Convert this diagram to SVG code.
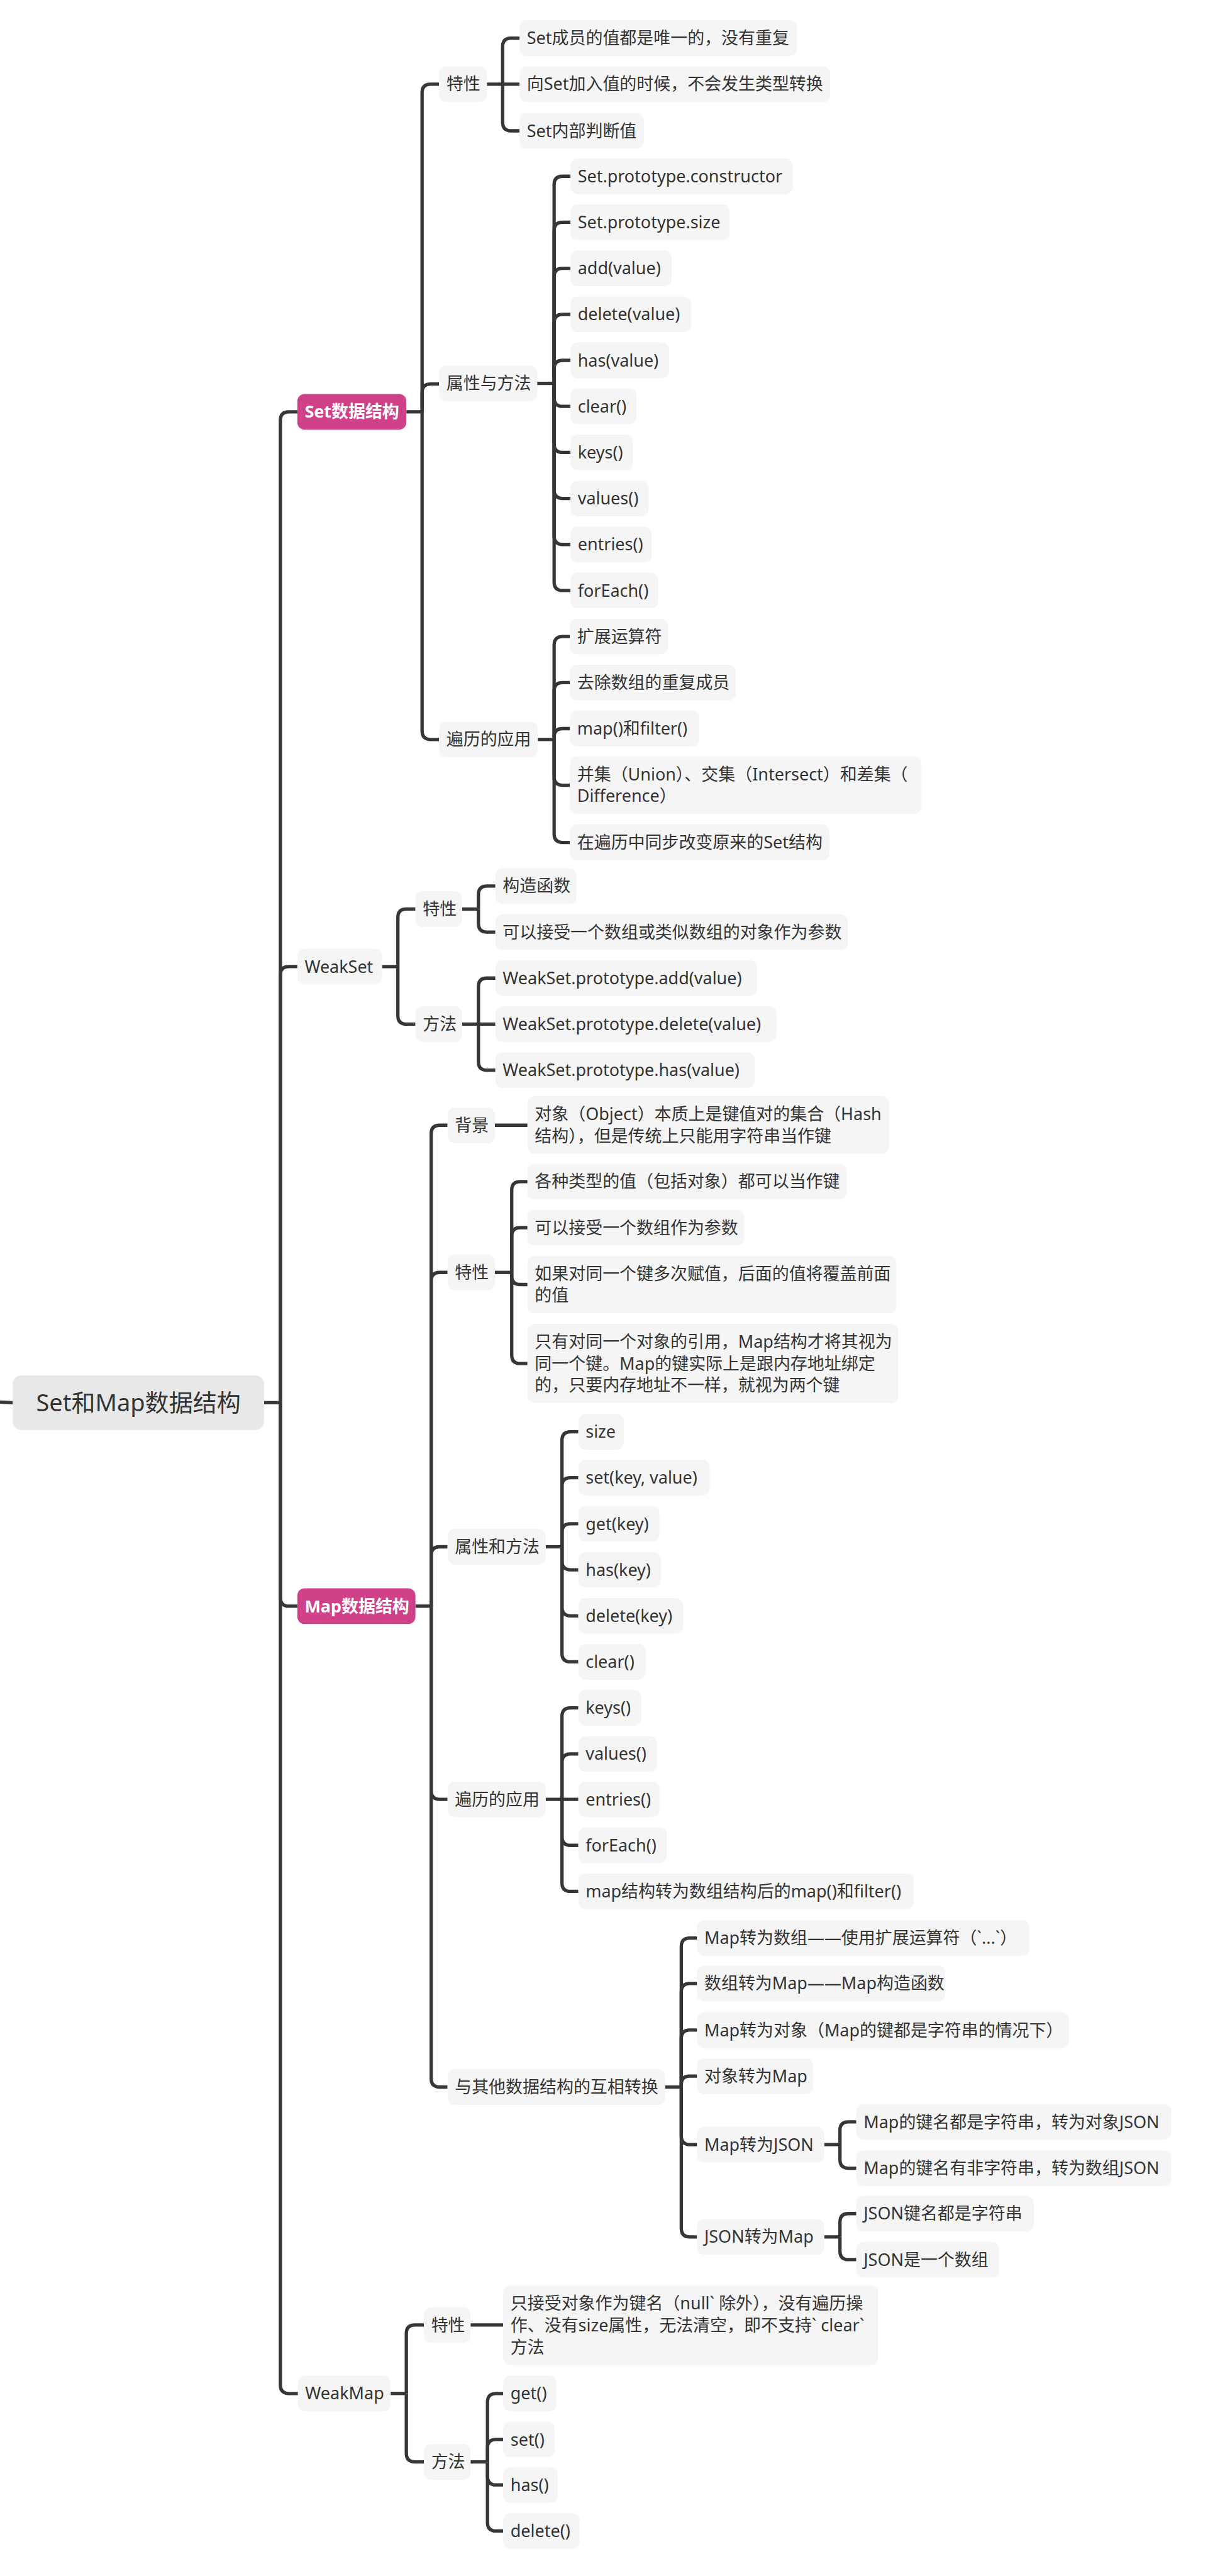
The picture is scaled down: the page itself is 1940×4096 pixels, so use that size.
<svg xmlns="http://www.w3.org/2000/svg" width="1940" height="4096" viewBox="0 0 1940 4096">
<style>
.n{fill:#F5F5F5}
.p{fill:#CF4289}
.r{fill:#E8E8E8}
.t{font-family:"Noto Sans","Noto Sans CJK SC",sans-serif;font-size:28px;fill:#333333}
.tb{font-family:"Noto Sans","Noto Sans CJK SC",sans-serif;font-size:28px;font-weight:bold;fill:#FFFFFF}
.tr{font-family:"Noto Sans","Noto Sans CJK SC",sans-serif;font-size:39.5px;fill:#333333}
.ln{fill:none;stroke:#363636;stroke-width:5.5}
</style>
<rect width="1940" height="4096" fill="#FFFFFF"/>
<g transform="scale(0.963)">
<g id="connectors" class="ln">
<path d="M0,2315 L21,2316"/>
<path d="M436,2316 H463"/>
<path d="M463,2316 V694 Q463,680 477,680 H491"/>
<path d="M463,2316 V1610 Q463,1596 477,1596 H491"/>
<path d="M463,2316 V2638 Q463,2652 477,2652 H491"/>
<path d="M463,2316 V3938 Q463,3952 477,3952 H492"/>
<path d="M671,680 H697"/>
<path d="M697,680 V153 Q697,139 711,139 H725"/>
<path d="M697,680 V648 Q697,634 711,634 H725"/>
<path d="M697,680 V1207 Q697,1221 711,1221 H725"/>
<path d="M804,139 H858"/>
<path d="M830,139 V77 Q830,63 844,63 H858"/>
<path d="M830,139 V202 Q830,216 844,216 H858"/>
<path d="M887,633 H915"/>
<path d="M915,633 V305 Q915,291 929,291 H942"/>
<path d="M915,633 V381 Q915,367 929,367 H942"/>
<path d="M915,633 V457 Q915,443 929,443 H942"/>
<path d="M915,633 V533 Q915,519 929,519 H942"/>
<path d="M915,633 V609 Q915,595 929,595 H942"/>
<path d="M915,633 V657 Q915,671 929,671 H942"/>
<path d="M915,633 V733 Q915,747 929,747 H942"/>
<path d="M915,633 V809 Q915,823 929,823 H942"/>
<path d="M915,633 V885 Q915,899 929,899 H942"/>
<path d="M915,633 V961 Q915,975 929,975 H942"/>
<path d="M888,1221 H915"/>
<path d="M915,1221 V1065 Q915,1051 929,1051 H941"/>
<path d="M915,1221 V1141 Q915,1127 929,1127 H941"/>
<path d="M915,1221 V1217 Q915,1203 929,1203 H941"/>
<path d="M915,1221 V1282.5 Q915,1296.5 929,1296.5 H941"/>
<path d="M915,1221 V1377 Q915,1391 929,1391 H941"/>
<path d="M631,1596 H657"/>
<path d="M657,1596 V1515 Q657,1501 671,1501 H686"/>
<path d="M657,1596 V1677 Q657,1691 671,1691 H686"/>
<path d="M763,1501 H790"/>
<path d="M790,1501 V1477 Q790,1463 804,1463 H818"/>
<path d="M790,1501 V1525 Q790,1539 804,1539 H818"/>
<path d="M763,1691 H818"/>
<path d="M790,1691 V1629 Q790,1615 804,1615 H818"/>
<path d="M790,1691 V1753 Q790,1767 804,1767 H818"/>
<path d="M686,2652 H712"/>
<path d="M712,2652 V1872 Q712,1858 726,1858 H739"/>
<path d="M712,2652 V2115 Q712,2101 726,2101 H739"/>
<path d="M712,2652 V2568 Q712,2554 726,2554 H739"/>
<path d="M712,2652 V2957 Q712,2971 726,2971 H739"/>
<path d="M712,2652 V3432 Q712,3446 726,3446 H739"/>
<path d="M817,1858 H871"/>
<path d="M817,2101 H845"/>
<path d="M845,2101 V1965 Q845,1951 859,1951 H871"/>
<path d="M845,2101 V2041 Q845,2027 859,2027 H871"/>
<path d="M845,2101 V2107 Q845,2121 859,2121 H871"/>
<path d="M845,2101 V2237.5 Q845,2251.5 859,2251.5 H871"/>
<path d="M901,2554 H928"/>
<path d="M928,2554 V2378 Q928,2364 942,2364 H955"/>
<path d="M928,2554 V2454 Q928,2440 942,2440 H955"/>
<path d="M928,2554 V2530 Q928,2516 942,2516 H955"/>
<path d="M928,2554 V2578 Q928,2592 942,2592 H955"/>
<path d="M928,2554 V2654 Q928,2668 942,2668 H955"/>
<path d="M928,2554 V2730 Q928,2744 942,2744 H955"/>
<path d="M901,2971 H955"/>
<path d="M928,2971 V2834 Q928,2820 942,2820 H955"/>
<path d="M928,2971 V2910 Q928,2896 942,2896 H955"/>
<path d="M928,2971 V3033 Q928,3047 942,3047 H955"/>
<path d="M928,2971 V3109 Q928,3123 942,3123 H955"/>
<path d="M1098,3446 H1125"/>
<path d="M1125,3446 V3214 Q1125,3200 1139,3200 H1151"/>
<path d="M1125,3446 V3289 Q1125,3275 1139,3275 H1151"/>
<path d="M1125,3446 V3366 Q1125,3352 1139,3352 H1151"/>
<path d="M1125,3446 V3442 Q1125,3428 1139,3428 H1151"/>
<path d="M1125,3446 V3527 Q1125,3541 1139,3541 H1151"/>
<path d="M1125,3446 V3679.5 Q1125,3693.5 1139,3693.5 H1151"/>
<path d="M1361,3541 H1387"/>
<path d="M1387,3541 V3517.5 Q1387,3503.5 1401,3503.5 H1414"/>
<path d="M1387,3541 V3566 Q1387,3580 1401,3580 H1414"/>
<path d="M1361,3693.5 H1387"/>
<path d="M1387,3693.5 V3669 Q1387,3655 1401,3655 H1414"/>
<path d="M1387,3693.5 V3717 Q1387,3731 1401,3731 H1414"/>
<path d="M645,3952 H671"/>
<path d="M671,3952 V3853 Q671,3839 685,3839 H700"/>
<path d="M671,3952 V4051 Q671,4065 685,4065 H700"/>
<path d="M777,3839 H831"/>
<path d="M777,4065 H805"/>
<path d="M805,4065 V3966 Q805,3952 819,3952 H831"/>
<path d="M805,4065 V4042 Q805,4028 819,4028 H831"/>
<path d="M805,4065 V4089 Q805,4103 819,4103 H831"/>
<path d="M805,4065 V4165 Q805,4179 819,4179 H831"/>
</g>

<g id="root"><rect class="r" x="21" y="2271" width="415" height="90" rx="14"/><text class="tr" x="228.5" y="2330" text-anchor="middle">Set和Map数据结构</text></g>

<g id="set"><rect class="p" x="491" y="650.5" width="180" height="59" rx="12"/><text class="tb" x="503" y="690">Set数据结构</text></g>
<g id="set-tx"><rect class="n" x="725" y="109.5" width="79" height="59" rx="12"/><text class="t" x="737" y="149">特性</text></g>
<g id="set-tx-1"><rect class="n" x="858" y="33.5" width="458" height="59" rx="12"/><text class="t" x="870" y="73">Set成员的值都是唯一的，没有重复</text></g>
<g id="set-tx-2"><rect class="n" x="858" y="109.5" width="513" height="59" rx="12"/><text class="t" x="870" y="149">向Set加入值的时候，不会发生类型转换</text></g>
<g id="set-tx-3"><rect class="n" x="858" y="186.5" width="205" height="59" rx="12"/><text class="t" x="870" y="226">Set内部判断值</text></g>
<g id="set-pm"><rect class="n" x="725" y="603.5" width="162" height="59" rx="12"/><text class="t" x="737" y="643">属性与方法</text></g>
<g id="set-pm-1"><rect class="n" x="942" y="261.5" width="367" height="59" rx="12"/><text class="t" x="954" y="301">Set.prototype.constructor</text></g>
<g id="set-pm-2"><rect class="n" x="942" y="337.5" width="263" height="59" rx="12"/><text class="t" x="954" y="377">Set.prototype.size</text></g>
<g id="set-pm-3"><rect class="n" x="942" y="413.5" width="167" height="59" rx="12"/><text class="t" x="954" y="453">add(value)</text></g>
<g id="set-pm-4"><rect class="n" x="942" y="489.5" width="199" height="59" rx="12"/><text class="t" x="954" y="529">delete(value)</text></g>
<g id="set-pm-5"><rect class="n" x="942" y="565.5" width="163" height="59" rx="12"/><text class="t" x="954" y="605">has(value)</text></g>
<g id="set-pm-6"><rect class="n" x="942" y="641.5" width="109" height="59" rx="12"/><text class="t" x="954" y="681">clear()</text></g>
<g id="set-pm-7"><rect class="n" x="942" y="717.5" width="103" height="59" rx="12"/><text class="t" x="954" y="757">keys()</text></g>
<g id="set-pm-8"><rect class="n" x="942" y="793.5" width="129" height="59" rx="12"/><text class="t" x="954" y="833">values()</text></g>
<g id="set-pm-9"><rect class="n" x="942" y="869.5" width="134" height="59" rx="12"/><text class="t" x="954" y="909">entries()</text></g>
<g id="set-pm-10"><rect class="n" x="942" y="945.5" width="145" height="59" rx="12"/><text class="t" x="954" y="985">forEach()</text></g>
<g id="set-it"><rect class="n" x="725" y="1191.5" width="163" height="59" rx="12"/><text class="t" x="737" y="1231">遍历的应用</text></g>
<g id="set-it-1"><rect class="n" x="941" y="1021.5" width="162" height="59" rx="12"/><text class="t" x="953" y="1061">扩展运算符</text></g>
<g id="set-it-2"><rect class="n" x="941" y="1097.5" width="274" height="59" rx="12"/><text class="t" x="953" y="1137">去除数组的重复成员</text></g>
<g id="set-it-3"><rect class="n" x="941" y="1173.5" width="214" height="59" rx="12"/><text class="t" x="953" y="1213">map()和filter()</text></g>
<g id="set-it-4"><rect class="n" x="941" y="1249" width="580" height="95" rx="12"/><text class="t" x="953" y="1288.5">并集（Union）、交集（Intersect）和差集（</text><text class="t" x="953" y="1324.5">Difference）</text></g>
<g id="set-it-5"><rect class="n" x="941" y="1361.5" width="429" height="59" rx="12"/><text class="t" x="953" y="1401">在遍历中同步改变原来的Set结构</text></g>

<g id="weakset"><rect class="n" x="491" y="1566.5" width="140" height="59" rx="12"/><text class="t" x="503" y="1606">WeakSet</text></g>
<g id="ws-tx"><rect class="n" x="686" y="1471.5" width="77" height="59" rx="12"/><text class="t" x="698" y="1511">特性</text></g>
<g id="ws-tx-1"><rect class="n" x="818" y="1433.5" width="134" height="59" rx="12"/><text class="t" x="830" y="1473">构造函数</text></g>
<g id="ws-tx-2"><rect class="n" x="818" y="1509.5" width="582" height="59" rx="12"/><text class="t" x="830" y="1549">可以接受一个数组或类似数组的对象作为参数</text></g>
<g id="ws-m"><rect class="n" x="686" y="1661.5" width="77" height="59" rx="12"/><text class="t" x="698" y="1701">方法</text></g>
<g id="ws-m-1"><rect class="n" x="818" y="1585.5" width="432" height="59" rx="12"/><text class="t" x="830" y="1625">WeakSet.prototype.add(value)</text></g>
<g id="ws-m-2"><rect class="n" x="818" y="1661.5" width="464" height="59" rx="12"/><text class="t" x="830" y="1701">WeakSet.prototype.delete(value)</text></g>
<g id="ws-m-3"><rect class="n" x="818" y="1737.5" width="428" height="59" rx="12"/><text class="t" x="830" y="1777">WeakSet.prototype.has(value)</text></g>

<g id="map"><rect class="p" x="491" y="2622.5" width="195" height="59" rx="12"/><text class="tb" x="503" y="2662">Map数据结构</text></g>
<g id="map-bg"><rect class="n" x="739" y="1828.5" width="78" height="59" rx="12"/><text class="t" x="751" y="1868">背景</text></g>
<g id="map-bg-1"><rect class="n" x="871" y="1810" width="597" height="95" rx="12"/><text class="t" x="883" y="1849.5">对象（Object）本质上是键值对的集合（Hash</text><text class="t" x="883" y="1885.5">结构），但是传统上只能用字符串当作键</text></g>
<g id="map-tx"><rect class="n" x="739" y="2071.5" width="78" height="59" rx="12"/><text class="t" x="751" y="2111">特性</text></g>
<g id="map-tx-1"><rect class="n" x="871" y="1921.5" width="527" height="59" rx="12"/><text class="t" x="883" y="1961">各种类型的值（包括对象）都可以当作键</text></g>
<g id="map-tx-2"><rect class="n" x="871" y="1997.5" width="358" height="59" rx="12"/><text class="t" x="883" y="2037">可以接受一个数组作为参数</text></g>
<g id="map-tx-3"><rect class="n" x="871" y="2073.5" width="609" height="95" rx="12"/><text class="t" x="883" y="2113">如果对同一个键多次赋值，后面的值将覆盖前面</text><text class="t" x="883" y="2149">的值</text></g>
<g id="map-tx-4"><rect class="n" x="871" y="2186" width="612" height="131" rx="12"/><text class="t" x="883" y="2225.5">只有对同一个对象的引用，Map结构才将其视为</text><text class="t" x="883" y="2261.5">同一个键。Map的键实际上是跟内存地址绑定</text><text class="t" x="883" y="2297.5">的，只要内存地址不一样，就视为两个键</text></g>
<g id="map-pm"><rect class="n" x="739" y="2524.5" width="162" height="59" rx="12"/><text class="t" x="751" y="2564">属性和方法</text></g>
<g id="map-pm-1"><rect class="n" x="955" y="2334.5" width="75" height="59" rx="12"/><text class="t" x="967" y="2374">size</text></g>
<g id="map-pm-2"><rect class="n" x="955" y="2410.5" width="217" height="59" rx="12"/><text class="t" x="967" y="2450">set(key, value)</text></g>
<g id="map-pm-3"><rect class="n" x="955" y="2486.5" width="134" height="59" rx="12"/><text class="t" x="967" y="2526">get(key)</text></g>
<g id="map-pm-4"><rect class="n" x="955" y="2562.5" width="136" height="59" rx="12"/><text class="t" x="967" y="2602">has(key)</text></g>
<g id="map-pm-5"><rect class="n" x="955" y="2638.5" width="173" height="59" rx="12"/><text class="t" x="967" y="2678">delete(key)</text></g>
<g id="map-pm-6"><rect class="n" x="955" y="2714.5" width="111" height="59" rx="12"/><text class="t" x="967" y="2754">clear()</text></g>
<g id="map-it"><rect class="n" x="739" y="2941.5" width="162" height="59" rx="12"/><text class="t" x="751" y="2981">遍历的应用</text></g>
<g id="map-it-1"><rect class="n" x="955" y="2790.5" width="104" height="59" rx="12"/><text class="t" x="967" y="2830">keys()</text></g>
<g id="map-it-2"><rect class="n" x="955" y="2866.5" width="130" height="59" rx="12"/><text class="t" x="967" y="2906">values()</text></g>
<g id="map-it-3"><rect class="n" x="955" y="2941.5" width="134" height="59" rx="12"/><text class="t" x="967" y="2981">entries()</text></g>
<g id="map-it-4"><rect class="n" x="955" y="3017.5" width="146" height="59" rx="12"/><text class="t" x="967" y="3057">forEach()</text></g>
<g id="map-it-5"><rect class="n" x="955" y="3093.5" width="554" height="59" rx="12"/><text class="t" x="967" y="3133">map结构转为数组结构后的map()和filter()</text></g>
<g id="map-cv"><rect class="n" x="739" y="3416.5" width="359" height="59" rx="12"/><text class="t" x="751" y="3456">与其他数据结构的互相转换</text></g>
<g id="map-cv-1"><rect class="n" x="1151" y="3170.5" width="549" height="59" rx="12"/><text class="t" x="1163" y="3210">Map转为数组——使用扩展运算符（`...`）</text></g>
<g id="map-cv-2"><rect class="n" x="1151" y="3245.5" width="410" height="59" rx="12"/><text class="t" x="1163" y="3285">数组转为Map——Map构造函数</text></g>
<g id="map-cv-3"><rect class="n" x="1151" y="3322.5" width="614" height="59" rx="12"/><text class="t" x="1163" y="3362">Map转为对象（Map的键都是字符串的情况下）</text></g>
<g id="map-cv-4"><rect class="n" x="1151" y="3398.5" width="192" height="59" rx="12"/><text class="t" x="1163" y="3438">对象转为Map</text></g>
<g id="map-cv-5"><rect class="n" x="1151" y="3511.5" width="210" height="59" rx="12"/><text class="t" x="1163" y="3551">Map转为JSON</text></g>
<g id="map-cv-5-1"><rect class="n" x="1414" y="3474" width="520" height="59" rx="12"/><text class="t" x="1426" y="3513.5">Map的键名都是字符串，转为对象JSON</text></g>
<g id="map-cv-5-2"><rect class="n" x="1414" y="3550.5" width="520" height="59" rx="12"/><text class="t" x="1426" y="3590">Map的键名有非字符串，转为数组JSON</text></g>
<g id="map-cv-6"><rect class="n" x="1151" y="3664" width="210" height="59" rx="12"/><text class="t" x="1163" y="3703.5">JSON转为Map</text></g>
<g id="map-cv-6-1"><rect class="n" x="1414" y="3625.5" width="293" height="59" rx="12"/><text class="t" x="1426" y="3665">JSON键名都是字符串</text></g>
<g id="map-cv-6-2"><rect class="n" x="1414" y="3701.5" width="236" height="59" rx="12"/><text class="t" x="1426" y="3741">JSON是一个数组</text></g>

<g id="weakmap"><rect class="n" x="492" y="3922.5" width="153" height="59" rx="12"/><text class="t" x="504" y="3962">WeakMap</text></g>
<g id="wm-tx"><rect class="n" x="700" y="3809.5" width="77" height="59" rx="12"/><text class="t" x="712" y="3849">特性</text></g>
<g id="wm-tx-1"><rect class="n" x="831" y="3774" width="619" height="131" rx="12"/><text class="t" x="843" y="3813.5">只接受对象作为键名（null` 除外），没有遍历操</text><text class="t" x="843" y="3849.5">作、没有size属性，无法清空，即不支持` clear`</text><text class="t" x="843" y="3885.5">方法</text></g>
<g id="wm-m"><rect class="n" x="700" y="4035.5" width="77" height="59" rx="12"/><text class="t" x="712" y="4075">方法</text></g>
<g id="wm-m-1"><rect class="n" x="831" y="3922.5" width="88" height="59" rx="12"/><text class="t" x="843" y="3962">get()</text></g>
<g id="wm-m-2"><rect class="n" x="831" y="3998.5" width="85" height="59" rx="12"/><text class="t" x="843" y="4038">set()</text></g>
<g id="wm-m-3"><rect class="n" x="831" y="4073.5" width="90" height="59" rx="12"/><text class="t" x="843" y="4113">has()</text></g>
<g id="wm-m-4"><rect class="n" x="831" y="4149.5" width="126" height="59" rx="12"/><text class="t" x="843" y="4189">delete()</text></g>
</g>
</svg>
